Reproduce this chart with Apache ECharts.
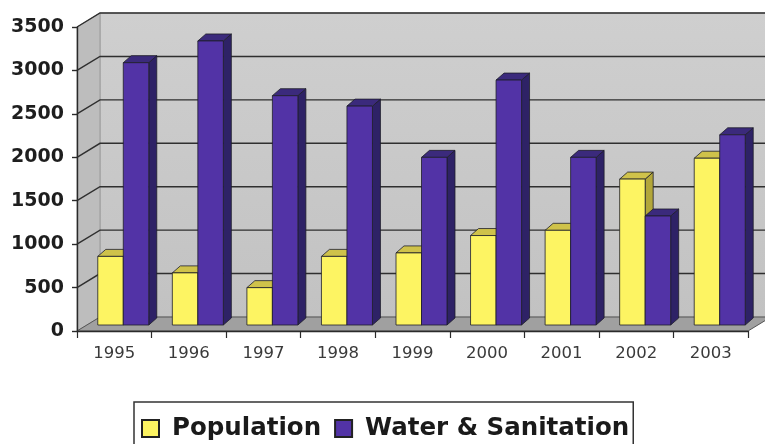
<!DOCTYPE html>
<html>
<head>
<meta charset="utf-8">
<script src="https://cdn.jsdelivr.net/npm/echarts@6/dist/echarts.min.js"></script>
<style>
  html, body { margin: 0; padding: 0; background: #ffffff; }
  #chart { width: 765px; height: 444px; }
</style>
</head>
<body>
<div id="chart"></div>
<script>
// Years on the category axis
const years = ['1995', '1996', '1997', '1998', '1999', '2000', '2001', '2002', '2003'];
// Series values
const population = [790, 600, 430, 790, 830, 1030, 1090, 1680, 1920];
const waterSanitation = [3020, 3270, 2640, 2520, 1930, 2820, 1930, 1255, 2190];
// Value axis ticks
const yTicks = [0, 500, 1000, 1500, 2000, 2500, 3000, 3500];

// Pseudo-3D geometry (pixels)
const WALL = { dx: 23, dy: -14 };      // depth of the floor / side wall
const BAR_OFF = { dx: 9, dy: -6 };     // bar front plane inside the depth
const BAR_D = { dx: 8, dy: -7 };       // depth of one column
const BAR_FRAC = 0.342;                // column width as share of a category band

const palettes = [
  { front: '#fdf462', top: '#cfc24a', side: '#b3a73a' },
  { front: '#5233a6', top: '#3b2a7c', side: '#2e2266' }
];

function barRenderer(which) {
  return function (params, api) {
    const cat = api.value(0);
    const val = api.value(1);
    const top = api.coord([cat, val]);
    const base = api.coord([cat, 0]);
    const band = api.size([1, 0])[0];
    const w = band * BAR_FRAC;
    const cx = top[0] + BAR_OFF.dx;
    const x0 = which === 0 ? cx - w : cx;
    const x1 = x0 + w;
    const yt = top[1] + BAR_OFF.dy;
    const yb = base[1] + BAR_OFF.dy;
    const p = palettes[which];
    const stroke = { stroke: '#1e1e2a', lineWidth: 0.8, lineJoin: 'round' };
    return {
      type: 'group',
      children: [
        { type: 'polygon', shape: { points: [[x1, yt], [x1 + BAR_D.dx, yt + BAR_D.dy], [x1 + BAR_D.dx, yb + BAR_D.dy], [x1, yb]] },
          style: Object.assign({ fill: p.side }, stroke) },
        { type: 'polygon', shape: { points: [[x0, yt], [x0 + BAR_D.dx, yt + BAR_D.dy], [x1 + BAR_D.dx, yt + BAR_D.dy], [x1, yt]] },
          style: Object.assign({ fill: p.top }, stroke) },
        { type: 'polygon', shape: { points: [[x0, yt], [x1, yt], [x1, yb], [x0, yb]] },
          style: Object.assign({ fill: p.front }, stroke) }
      ]
    };
  };
}

// Walls, floor and the gridlines that run across them
function wallRenderer(params, api) {
  const cs = params.coordSys;
  const xl = cs.x, xr = cs.x + cs.width;
  const y0 = api.coord([0, 0])[1];
  const yTop = api.coord([0, yTicks[yTicks.length - 1]])[1];
  const children = [];
  // back wall
  children.push({ type: 'polygon', shape: { points: [[xl + WALL.dx, yTop + WALL.dy], [xr + WALL.dx, yTop + WALL.dy], [xr + WALL.dx, y0 + WALL.dy], [xl + WALL.dx, y0 + WALL.dy]] },
    style: { fill: { type: 'linear', x: 0, y: 0, x2: 0, y2: 1, colorStops: [{ offset: 0, color: '#cfcfcf' }, { offset: 1, color: '#c2c2c2' }] }, stroke: '#a8a8a8', lineWidth: 1 } });
  // side wall
  children.push({ type: 'polygon', shape: { points: [[xl, yTop], [xl + WALL.dx, yTop + WALL.dy], [xl + WALL.dx, y0 + WALL.dy], [xl, y0]] },
    style: { fill: '#bdbdbd', stroke: '#9a9a9a', lineWidth: 1 } });
  // floor
  children.push({ type: 'polygon', shape: { points: [[xl, y0], [xr, y0], [xr + WALL.dx, y0 + WALL.dy], [xl + WALL.dx, y0 + WALL.dy]] },
    style: { fill: '#a0a0a0', stroke: '#555', lineWidth: 1 } });
  // gridlines
  yTicks.forEach(function (t) {
    const y = api.coord([0, t])[1];
    if (t === 0) return;
    children.push({ type: 'polyline', shape: { points: [[xl, y], [xl + WALL.dx, y + WALL.dy], [xr + WALL.dx, y + WALL.dy]] },
      style: { fill: null, stroke: '#2f2f2f', lineWidth: 1.4 } });
  });
  return { type: 'group', children: children };
}

const chart = echarts.init(document.getElementById('chart'), null, { renderer: 'canvas' });
chart.setOption({
  animation: false,
  backgroundColor: '#ffffff',
  grid: { left: 77, right: 17, top: 27, bottom: 113 },
  xAxis: {
    type: 'category',
    data: years,
    boundaryGap: true,
    axisLine: { show: true, lineStyle: { color: '#2a2a2a', width: 1.4 } },
    axisTick: { show: true, length: 7, lineStyle: { color: '#2a2a2a', width: 1.2 } },
    axisLabel: { margin: 14, fontFamily: 'DejaVu Sans', fontSize: 16.5, color: '#3a3a3a' },
    splitLine: { show: false },
    z: 5
  },
  yAxis: {
    type: 'value',
    min: 0,
    max: 3500,
    interval: 500,
    axisLine: { show: true, lineStyle: { color: '#2a2a2a', width: 1.4 } },
    axisTick: { show: true, length: 5, lineStyle: { color: '#2a2a2a', width: 1.4 } },
    axisLabel: {
      margin: 13, fontFamily: 'DejaVu Sans', fontWeight: 'bold', fontSize: 19, color: '#1e1e1e',
      formatter: function (v) { return String(v); }
    },
    splitLine: { show: false },
    z: 5
  },
  legend: {
    data: ['Population', 'Water & Sanitation'],
    left: 134,
    top: 402,
    orient: 'horizontal',
    itemWidth: 17,
    itemHeight: 17,
    itemGap: 13,
    padding: [14, 4, 5, 7],
    borderColor: '#333',
    borderWidth: 1.5,
    icon: 'rect',
    selectedMode: false,
    textStyle: { fontFamily: 'DejaVu Sans', fontWeight: 'bold', fontSize: 24.5, color: '#1a1a1a', padding: [0, 0, 0, 8] }
  },
  series: [
    {
      type: 'custom',
      name: 'walls',
      silent: true,
      z: 1,
      renderItem: wallRenderer,
      data: [[0, 0]]
    },
    {
      type: 'custom',
      name: 'Population',
      z: 2,
      itemStyle: { color: palettes[0].front, borderColor: '#222', borderWidth: 1 },
      renderItem: barRenderer(0),
      encode: { x: 0, y: 1 },
      data: population.map(function (v, i) { return [i, v]; })
    },
    {
      type: 'custom',
      name: 'Water & Sanitation',
      z: 3,
      itemStyle: { color: palettes[1].front, borderColor: '#222', borderWidth: 1 },
      renderItem: barRenderer(1),
      encode: { x: 0, y: 1 },
      data: waterSanitation.map(function (v, i) { return [i, v]; })
    }
  ]
});
</script>
</body>
</html>
